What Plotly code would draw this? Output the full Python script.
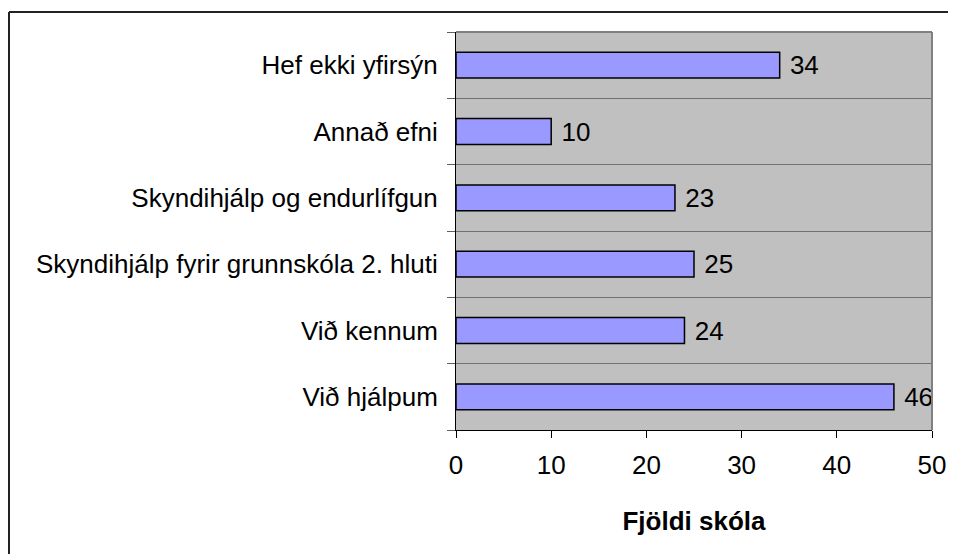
import plotly.graph_objects as go

categories = [
    "Við hjálpum",
    "Við kennum",
    "Skyndihjálp fyrir grunnskóla 2. hluti",
    "Skyndihjálp og endurlífgun",
    "Annað efni",
    "Hef ekki yfirsýn",
]
values = [46, 24, 25, 23, 10, 34]
x_ticks = [0, 10, 20, 30, 40, 50]
x_title = "Fjöldi skóla"

FONT = "Liberation Sans, Arial, sans-serif"
FS = 26

fig = go.Figure()
fig.add_trace(go.Bar(
    x=values,
    y=categories,
    orientation="h",
    width=0.39,
    marker=dict(color="#9999FF", line=dict(color="#000000", width=1.5)),
    text=values,
    texttemplate=" %{x}",
    textposition="outside",
    textfont=dict(family=FONT, size=FS, color="#000000"),
    cliponaxis=False,
    constraintext="none",
))

# figure coordinates (page adds 8px body margin)
L, R, T, B = 448, 924, 24, 422
W, H = 956, 554
pw, ph = R - L, B - T

fig.update_layout(
    width=W, height=H,
    margin=dict(l=L, r=W - R, t=T, b=H - B, pad=0),
    paper_bgcolor="#FFFFFF",
    plot_bgcolor="#C0C0C0",
    showlegend=False,
    font=dict(family=FONT, size=FS, color="#000000"),
    xaxis=dict(
        range=[0, 50],
        tickvals=x_ticks,
        ticktext=[str(v) for v in x_ticks],
        showgrid=False,
        zeroline=False,
        showline=True, linecolor="#000000", linewidth=1,
        ticks="outside", ticklen=7, tickcolor="#000000", tickwidth=1,
        ticklabelstandoff=5,
        tickfont=dict(family=FONT, size=FS, color="#000000"),
        title=dict(text="<b>" + x_title + "</b>", font=dict(family=FONT, size=FS, color="#000000"), standoff=32),
        fixedrange=True,
    ),
    yaxis=dict(
        categoryorder="array",
        categoryarray=categories,
        range=[-0.5, len(categories) - 0.5],
        tickson="boundaries",
        ticks="outside", ticklen=8, tickcolor="#606060", tickwidth=1,
        ticklabelstandoff=12,
        showgrid=True, gridcolor="#707070", gridwidth=1,
        showline=True, linecolor="#000000", linewidth=1,
        zeroline=False,
        tickfont=dict(family=FONT, size=FS, color="#000000"),
        fixedrange=True,
    ),
)

# plot area border (top and right, gray)
fig.add_shape(type="line", xref="paper", yref="paper", x0=0, x1=1, y0=1, y1=1,
              line=dict(color="#808080", width=2))
fig.add_shape(type="line", xref="paper", yref="paper", x0=1, x1=1, y0=0, y1=1,
              line=dict(color="#808080", width=2))

# outer chart border (top and left visible)
ox = (1 - L) / pw
oy = 1 + (T - 4) / ph
fig.add_shape(type="line", xref="paper", yref="paper", x0=ox, x1=(W + 5 - L) / pw, y0=oy, y1=oy,
              line=dict(color="#222222", width=2))
fig.add_shape(type="line", xref="paper", yref="paper", x0=ox, x1=ox, y0=oy, y1=-(H + 5 - B) / ph,
              line=dict(color="#222222", width=2))

fig.write_html("out.html")
